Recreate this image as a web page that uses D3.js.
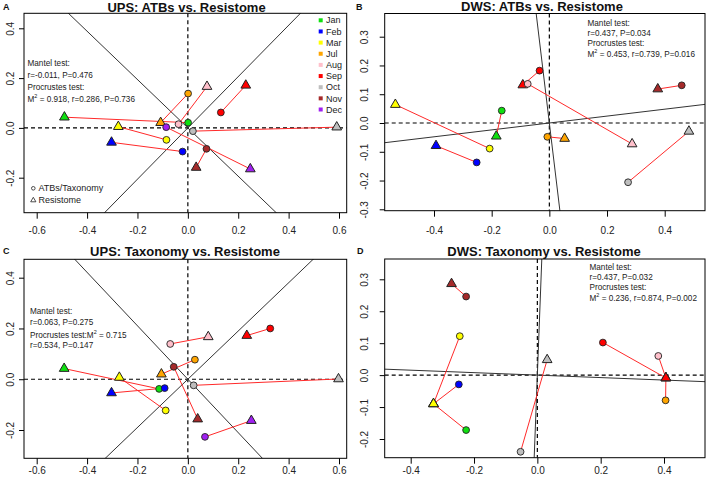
<!DOCTYPE html>
<html><head><meta charset="utf-8">
<script src="https://cdn.jsdelivr.net/npm/d3@7"></script>
<style>
body{margin:0;background:#fff}
svg{display:block}
text{font-family:"Liberation Sans",Arial,Helvetica,sans-serif}
</style>
</head><body>
<svg id="chart" width="708" height="483"></svg>
<script>
// ---------- data ----------
const monthsUPS = ["Jan","Feb","Mar","Jul","Aug","Sep","Oct","Nov","Dec"];
const monthsDWS = ["Jan","Feb","Mar","Jul","Aug","Sep","Oct","Nov"];

// Panel A: UPS ATBs (circles) vs Resistome (triangles)
const upsAtbX   = [0.001,-0.021,-0.085,0.001,-0.037,0.131,0.020,0.074,-0.086];
const upsAtbY   = [0.021,-0.095,-0.048,0.138,0.015,0.062,-0.013,-0.084,0.003];
const upsResAX  = [-0.490,-0.303,-0.276,-0.108,0.076,0.230,0.591,0.033,0.248];
const upsResAY  = [0.043,-0.058,0.005,0.021,0.166,0.171,0.003,-0.159,-0.165];

// Panel B: DWS ATBs vs Resistome
const dwsAtbX   = [-0.165,-0.252,-0.207,-0.007,-0.075,-0.034,0.273,0.459];
const dwsAtbY   = [0.043,-0.137,-0.089,-0.048,0.136,0.182,-0.206,0.131];
const dwsResBX  = [-0.184,-0.393,-0.534,0.053,0.287,-0.092,0.484,0.376];
const dwsResBY  = [-0.046,-0.079,0.064,-0.054,-0.073,0.132,-0.029,0.118];

// Panel C: UPS Taxonomy vs Resistome
const upsTaxX   = [-0.114,-0.092,-0.088,0.028,-0.070,0.327,0.023,-0.056,0.068];
const upsTaxY   = [-0.038,-0.035,-0.123,0.077,0.139,0.200,-0.024,0.049,-0.227];
const upsResCX  = [-0.491,-0.303,-0.272,-0.105,0.081,0.234,0.598,0.039,0.252];
const upsResCY  = [0.042,-0.054,0.007,0.020,0.167,0.172,0.001,-0.157,-0.163];

// Panel D: DWS Taxonomy vs Resistome
const dwsTaxX   = [-0.225,-0.248,-0.245,0.405,0.382,0.207,-0.053,-0.225];
const dwsTaxY   = [-0.172,-0.029,0.122,-0.079,0.060,0.102,-0.240,0.246];
const dwsResDX  = [-0.328,-0.328,-0.328,0.406,0.406,0.406,0.031,-0.271];
const dwsResDY  = [-0.090,-0.090,-0.090,-0.009,-0.009,-0.009,0.048,0.286];

// Procrustes rotation axis slopes (A, B, C, D)
const rotationSlopes = [1.03, 0.12, 0.95, -0.0387];

// Statistics (A, B, C, D)
const mantelR = [-0.011, 0.437, 0.063, 0.437];
const mantelP = [0.476, 0.034, 0.275, 0.032];
const procM2  = [0.918, 0.453, 0.715, 0.236];
const procR   = [0.286, 0.739, 0.534, 0.874];
const procP   = [0.736, 0.016, 0.147, 0.002];

const titles = ["UPS: ATBs vs. Resistome","DWS: ATBs vs. Resistome",
                "UPS: Taxonomy vs. Resistome","DWS: Taxonomy vs. Resistome"];
const panelLetters = ["A","B","C","D"];

const xTicksUPS = [-0.6,-0.4,-0.2,0.0,0.2,0.4,0.6];
const yTicksUPS = [-0.2,0.0,0.2,0.4];
const xTicksDWS = [-0.4,-0.2,0.0,0.2,0.4];
const yTicksDWSB = [-0.3,-0.2,-0.1,0.0,0.1,0.2,0.3];
const yTicksDWSD = [-0.2,-0.1,0.0,0.1,0.2,0.3];

const legendLabels = ["ATBs/Taxonomy","Resistome"];

// ---------- styles ----------
const monthColor = {
  Jan:"#10e010", Feb:"#0000ff", Mar:"#ffff00", Jul:"#ffa500", Aug:"#ffc0cb",
  Sep:"#ff0000", Oct:"#bebebe", Nov:"#a52a2a", Dec:"#a020f0"
};

// ---------- layout ----------
const layouts = [
  {box:{l:24,r:346.7,t:13.3,b:212.7}, xa:[-0.6,36.7,0.6,339], ya:[0.4,28.3,-0.2,177.7],
   xLabY:231, yLabX:10, title:[186.5,7], letter:[3,7],
   stat:{x:27.5, ys:[63,75,86.5,98.7]}},
  {box:{l:384.7,r:705,t:13.5,b:210.7}, xa:[-0.4,434,0.4,664.7], ya:[0.3,36.7,-0.3,209.3],
   xLabY:231, yLabX:364, title:[542,6.5], letter:[356,6.5],
   stat:{x:587.5, ys:[22.7,32.7,43,53.5]}},
  {box:{l:24,r:346.7,t:259.3,b:458.3}, xa:[-0.6,36.7,0.6,339], ya:[0.4,277.7,-0.2,430],
   xLabY:471, yLabX:10, title:[185,251], letter:[3,251],
   stat:{x:30, ys:[311,321.5,334.5,345]}},
  {box:{l:384.7,r:705,t:259,b:457.7}, xa:[-0.4,410.7,0.4,664], ya:[0.3,279.3,-0.2,439],
   xLabY:471, yLabX:364, title:[544,251], letter:[357,251],
   stat:{x:589.5, ys:[266.7,276.7,287,297.7]}}
];

const panelData = [
  {months:monthsUPS, cx:upsAtbX, cy:upsAtbY, tx:upsResAX, ty:upsResAY, xt:xTicksUPS, yt:yTicksUPS},
  {months:monthsDWS, cx:dwsAtbX, cy:dwsAtbY, tx:dwsResBX, ty:dwsResBY, xt:xTicksDWS, yt:yTicksDWSB},
  {months:monthsUPS, cx:upsTaxX, cy:upsTaxY, tx:upsResCX, ty:upsResCY, xt:xTicksUPS, yt:yTicksUPS},
  {months:monthsDWS, cx:dwsTaxX, cy:dwsTaxY, tx:dwsResDX, ty:dwsResDY, xt:xTicksDWS, yt:yTicksDWSD}
];

const svg = d3.select("#chart");
const hy = s => s.replace(/\u2212/g, "-");
const f3 = v => hy(d3.format(".3f")(v));
const fTick = v => hy(d3.format(".1f")(v));

const TRI_R = 5.6;
function triPath(r){ const xc = r*Math.sqrt(3)/2;
  return `M0,${-r}L${xc},${r/2}L${-xc},${r/2}Z`; }

panelData.forEach((pd, i) => {
  const L = layouts[i], B = L.box;
  const x = d3.scaleLinear().domain([L.xa[0], L.xa[2]]).range([L.xa[1], L.xa[3]]);
  const y = d3.scaleLinear().domain([L.ya[0], L.ya[2]]).range([L.ya[1], L.ya[3]]);
  const g = svg.append("g");

  const clipId = "clip" + i;
  svg.append("clipPath").attr("id", clipId).append("rect")
    .attr("x", B.l).attr("y", B.t).attr("width", B.r - B.l).attr("height", B.b - B.t);

  // axes
  const xAxis = d3.axisBottom(x).tickValues(pd.xt).tickSize(6).tickFormat(fTick);
  const gx = g.append("g").attr("transform", `translate(0,${B.b})`).call(xAxis);
  gx.select(".domain").remove();
  gx.selectAll("line").attr("stroke", "#000");
  gx.selectAll("text").attr("y", L.xLabY - B.b).attr("dy", "0.35em")
    .attr("font-size", 10).attr("fill", "#222");

  const yAxis = d3.axisLeft(y).tickValues(pd.yt).tickSize(5).tickFormat(fTick);
  const gy = g.append("g").attr("transform", `translate(${B.l},0)`).call(yAxis);
  gy.select(".domain").remove();
  gy.selectAll("line").attr("stroke", "#000");
  gy.selectAll("text").attr("x", null).attr("dy", null)
    .attr("text-anchor", "middle")
    .attr("transform", () => `translate(${L.yLabX - B.l},0) rotate(-90)`)
    .attr("dy", "0.35em")
    .attr("font-size", 10).attr("fill", "#222");

  const plot = g.append("g").attr("clip-path", `url(#${clipId})`);

  // dashed zero lines
  plot.append("line").attr("x1", B.l).attr("x2", B.r).attr("y1", y(0)).attr("y2", y(0))
    .attr("stroke", "#000").attr("stroke-width", 1.2).attr("stroke-dasharray", "4,3");
  plot.append("line").attr("x1", x(0)).attr("x2", x(0)).attr("y1", B.t).attr("y2", B.b)
    .attr("stroke", "#000").attr("stroke-width", 1.2).attr("stroke-dasharray", "4,3");

  // rotation axes
  const s = rotationSlopes[i];
  [[1, s], [-s, 1]].forEach(([dx, dy]) => {
    const n = Math.hypot(dx, dy), k = 5 / n;
    plot.append("line")
      .attr("x1", x(-dx * k)).attr("y1", y(-dy * k))
      .attr("x2", x(dx * k)).attr("y2", y(dy * k))
      .attr("stroke", "#333").attr("stroke-width", 1);
  });

  const idx = d3.range(pd.months.length);
  // connectors
  plot.selectAll("line.conn").data(idx).join("line").attr("class", "conn")
    .attr("x1", j => x(pd.tx[j])).attr("y1", j => y(pd.ty[j]))
    .attr("x2", j => x(pd.cx[j])).attr("y2", j => y(pd.cy[j]))
    .attr("stroke", "#ff2a2a").attr("stroke-width", 1);
  // triangles
  plot.selectAll("path.tri").data(idx).join("path").attr("class", "tri")
    .attr("d", triPath(TRI_R))
    .attr("transform", j => `translate(${x(pd.tx[j])},${y(pd.ty[j])})`)
    .attr("fill", j => monthColor[pd.months[j]])
    .attr("stroke", "#222").attr("stroke-width", 1);
  // circles
  plot.selectAll("circle.pt").data(idx).join("circle").attr("class", "pt")
    .attr("cx", j => x(pd.cx[j])).attr("cy", j => y(pd.cy[j])).attr("r", 3.4)
    .attr("fill", j => monthColor[pd.months[j]])
    .attr("stroke", "#222").attr("stroke-width", 0.9);

  // box
  g.append("rect").attr("x", B.l).attr("y", B.t).attr("width", B.r - B.l).attr("height", B.b - B.t)
    .attr("fill", "none").attr("stroke", "#000").attr("stroke-width", 1);

  // title & letter
  g.append("text").attr("x", L.title[0]).attr("y", L.title[1]).attr("dy", "0.35em")
    .attr("text-anchor", "middle").attr("font-weight", "bold").attr("font-size", 13)
    .attr("fill", "#111").text(titles[i]);
  g.append("text").attr("x", L.letter[0]).attr("y", L.letter[1]).attr("dy", "0.35em")
    .attr("font-weight", "bold").attr("font-size", 9).attr("fill", "#111").text(panelLetters[i]);

  // statistics
  const st = g.append("g").attr("font-size", 9).attr("fill", "#222");
  const line = (k) => st.append("text")
    .attr("transform", `translate(${L.stat.x},${L.stat.ys[k]}) scale(0.91,1)`)
    .attr("dy", "0.35em");
  line(0).text("Mantel test:");
  line(1).text(`r=${f3(mantelR[i])}, P=${f3(mantelP[i])}`);
  const m2 = (t) => {
    t.append("tspan").text("M");
    t.append("tspan").attr("font-size", 6).attr("dy", -3.5).text("2");
    t.append("tspan").attr("dy", 3.5).text(` = ${f3(procM2[i])}`);
  };
  if (i === 2) {
    const t = line(2); t.append("tspan").text("Procrustes test:"); m2(t);
    line(3).text(`r=${f3(procR[i])}, P=${f3(procP[i])}`);
  } else {
    line(2).text("Procrustes test:");
    const t = line(3); m2(t); t.append("tspan").text(`, r=${f3(procR[i])}, P=${f3(procP[i])}`);
  }
});

// month legend (panel A)
const lg = svg.append("g");
monthsUPS.forEach((m, k) => {
  const yy = 20.3 + k * 11.15;
  lg.append("rect").attr("x", 318.7).attr("y", yy - 2).attr("width", 4).attr("height", 4)
    .attr("fill", monthColor[m]);
  lg.append("text").attr("x", 326).attr("y", yy).attr("dy", "0.35em")
    .attr("font-size", 9).attr("fill", "#222").text(m);
});
// symbol legend (panel A)
const sl = svg.append("g");
sl.append("circle").attr("cx", 33.3).attr("cy", 188.3).attr("r", 1.8)
  .attr("fill", "none").attr("stroke", "#222").attr("stroke-width", 0.8);
sl.append("path").attr("d", triPath(3)).attr("transform", "translate(33.3,200.3)")
  .attr("fill", "none").attr("stroke", "#222").attr("stroke-width", 0.8);
sl.append("text").attr("x", 38.5).attr("y", 188.3).attr("dy", "0.35em")
  .attr("font-size", 9).attr("fill", "#222").text(legendLabels[0]);
sl.append("text").attr("x", 38.5).attr("y", 200.3).attr("dy", "0.35em")
  .attr("font-size", 9).attr("fill", "#222").text(legendLabels[1]);
</script>
</body></html>
